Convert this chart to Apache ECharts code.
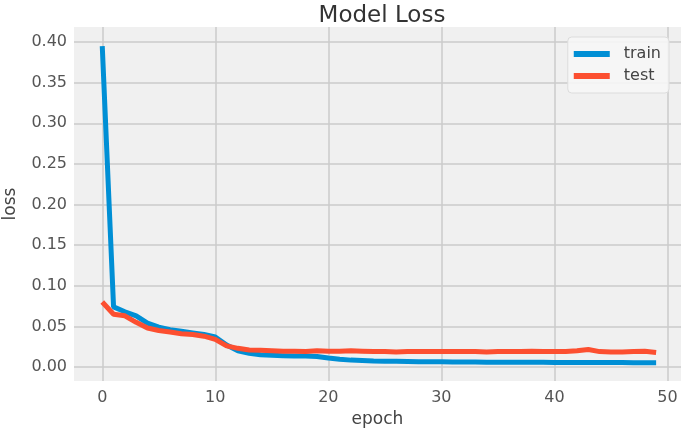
<!DOCTYPE html>
<html>
<head>
<meta charset="utf-8">
<script src="https://cdn.jsdelivr.net/npm/echarts@6/dist/echarts.min.js"></script>
<style>html,body{margin:0;padding:0;background:#fff;}#c{width:686px;height:429px;}</style>
</head>
<body>
<div id="c"></div>
<script>
const epochs = Array.from({length: 50}, (_, i) => i);
const train = [0.395, 0.074, 0.068, 0.063, 0.054, 0.049, 0.046, 0.044, 0.042, 0.040,
  0.037, 0.027, 0.020, 0.017, 0.015, 0.0145, 0.014, 0.0135, 0.0135, 0.013,
  0.011, 0.0095, 0.0085, 0.008, 0.0075, 0.0072, 0.007, 0.0068, 0.0066, 0.0065,
  0.0064, 0.0063, 0.0062, 0.0061, 0.006, 0.006, 0.006, 0.0059, 0.0058, 0.0058,
  0.0057, 0.0057, 0.0056, 0.0056, 0.0055, 0.0055, 0.0055, 0.0054, 0.0054, 0.0054];
const test = [0.080, 0.065, 0.063, 0.055, 0.048, 0.045, 0.043, 0.041, 0.040, 0.038,
  0.034, 0.026, 0.023, 0.021, 0.0205, 0.020, 0.0195, 0.0195, 0.019, 0.020,
  0.0195, 0.0195, 0.020, 0.0195, 0.019, 0.019, 0.0185, 0.019, 0.019, 0.019,
  0.019, 0.019, 0.019, 0.019, 0.0185, 0.019, 0.019, 0.019, 0.0195, 0.019,
  0.019, 0.019, 0.020, 0.0215, 0.019, 0.0185, 0.0185, 0.019, 0.0195, 0.018];
const xTicks = [0, 10, 20, 30, 40, 50];
const yTicks = [0.00, 0.05, 0.10, 0.15, 0.20, 0.25, 0.30, 0.35, 0.40];

const chart = echarts.init(document.getElementById('c'));
const font = 'DejaVu Sans';
chart.setOption({
  backgroundColor: '#ffffff',
  animation: false,
  title: {
    text: 'Model Loss', left: 377, top: 0, textAlign: 'center',
    textStyle: {fontFamily: font, fontSize: 23, fontWeight: 'normal', color: '#333'}
  },
  legend: {
    orient: 'vertical', right: 17, top: 37,
    itemWidth: 36, itemHeight: 6, itemGap: 6,
    icon: 'rect',
    padding: [9, 8, 9, 6],
    backgroundColor: 'rgba(246,246,246,0.9)',
    borderColor: '#dcdcdc', borderWidth: 1, borderRadius: 4,
    textStyle: {fontFamily: font, fontSize: 16, color: '#444', lineHeight: 16, padding: [0, 0, 0, 9]},
    data: ['train', 'test']
  },
  grid: {left: 74, right: 5, top: 27, bottom: 48, show: true, backgroundColor: '#f0f0f0', borderWidth: 0,
    outerBoundsMode: 'none', containLabel: false},
  xAxis: {
    type: 'value', min: -2.5, max: 51.2,
    name: 'epoch', nameLocation: 'middle', nameGap: 26,
    nameTextStyle: {fontFamily: font, fontSize: 17, color: '#444'},
    axisLine: {show: false}, axisTick: {show: false, customValues: xTicks},
    axisLabel: {customValues: xTicks, fontFamily: font, fontSize: 16, color: '#555', margin: 9},
    splitLine: {show: true, lineStyle: {color: '#cbcbcb', width: 1.5}}
  },
  yAxis: {
    type: 'value', min: -0.0172, max: 0.4185,
    name: 'loss', nameLocation: 'middle', nameGap: 55, nameRotate: 90,
    nameTextStyle: {fontFamily: font, fontSize: 17, color: '#444'},
    axisLine: {show: false}, axisTick: {show: false, customValues: yTicks},
    axisLabel: {customValues: yTicks, fontFamily: font, fontSize: 16, color: '#555', margin: 7,
      formatter: v => v.toFixed(2)},
    splitLine: {show: true, lineStyle: {color: '#cbcbcb', width: 1.5}}
  },
  series: [
    {name: 'train', type: 'line', data: epochs.map((e, i) => [e, train[i]]),
      showSymbol: false, symbol: 'none', lineStyle: {color: '#008fd5', width: 5}, itemStyle: {color: '#008fd5'}},
    {name: 'test', type: 'line', data: epochs.map((e, i) => [e, test[i]]),
      showSymbol: false, symbol: 'none', lineStyle: {color: '#fc4f30', width: 5}, itemStyle: {color: '#fc4f30'}}
  ]
});
</script>
</body>
</html>
